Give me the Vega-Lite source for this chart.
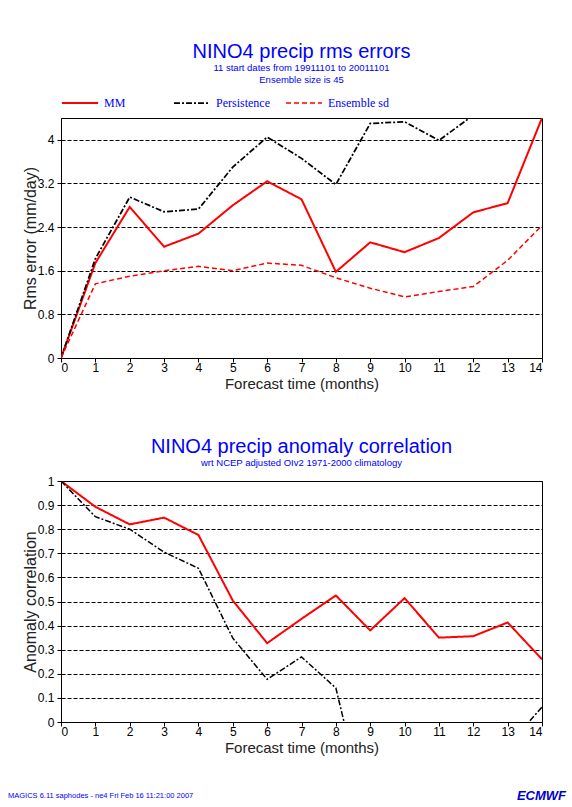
{
  "$schema": "https://vega.github.io/schema/vega-lite/v6.json",
  "background": "white",
  "padding": {"left": 7, "top": 41, "right": 7, "bottom": 3},
  "bounds": "flush",
  "spacing": 123,
  "config": {
    "font": "Liberation Sans",
    "view": {"stroke": "black", "strokeWidth": 1},
    "axis": {
      "domainColor": "black", "tickColor": "black", "labelColor": "black",
      "labelFont": "Liberation Sans", "labelFontSize": 12, "tickSize": 4,
      "titleFont": "Liberation Sans", "titleFontWeight": "normal", "titleColor": "#222"
    },
    "title": {"font": "Liberation Sans", "subtitleFont": "Liberation Sans", "fontWeight": "normal", "color": "blue", "subtitleColor": "blue"},
    "legend": {
      "orient": "top", "direction": "horizontal", "columns": 3, "gridAlign": "all",
      "symbolType": "stroke", "symbolSize": 1296,
      "labelFont": "Liberation Serif", "labelFontSize": 12, "labelColor": "blue",
      "labelOffset": 5, "columnPadding": 5, "offset": 9, "padding": 0
    }
  },
  "datasets": {
    "rms": [
      {"month": 0, "series": "MM", "value": 0},
      {"month": 1, "series": "MM", "value": 1.74},
      {"month": 2, "series": "MM", "value": 2.77},
      {"month": 3, "series": "MM", "value": 2.04},
      {"month": 4, "series": "MM", "value": 2.28},
      {"month": 5, "series": "MM", "value": 2.80},
      {"month": 6, "series": "MM", "value": 3.24},
      {"month": 7, "series": "MM", "value": 2.91},
      {"month": 8, "series": "MM", "value": 1.58},
      {"month": 9, "series": "MM", "value": 2.12},
      {"month": 10, "series": "MM", "value": 1.94},
      {"month": 11, "series": "MM", "value": 2.20},
      {"month": 12, "series": "MM", "value": 2.67},
      {"month": 13, "series": "MM", "value": 2.84},
      {"month": 14, "series": "MM", "value": 4.40},
      {"month": 0, "series": "Persistence", "value": 0},
      {"month": 1, "series": "Persistence", "value": 1.82},
      {"month": 2, "series": "Persistence", "value": 2.95},
      {"month": 3, "series": "Persistence", "value": 2.68},
      {"month": 4, "series": "Persistence", "value": 2.73},
      {"month": 5, "series": "Persistence", "value": 3.50},
      {"month": 6, "series": "Persistence", "value": 4.05},
      {"month": 7, "series": "Persistence", "value": 3.66},
      {"month": 8, "series": "Persistence", "value": 3.18},
      {"month": 9, "series": "Persistence", "value": 4.30},
      {"month": 10, "series": "Persistence", "value": 4.33},
      {"month": 11, "series": "Persistence", "value": 3.99},
      {"month": 12, "series": "Persistence", "value": 4.45},
      {"month": 13, "series": "Persistence", "value": 4.6},
      {"month": 14, "series": "Persistence", "value": 4.8},
      {"month": 0, "series": "Ensemble sd", "value": 0},
      {"month": 1, "series": "Ensemble sd", "value": 1.36},
      {"month": 2, "series": "Ensemble sd", "value": 1.50},
      {"month": 3, "series": "Ensemble sd", "value": 1.60},
      {"month": 4, "series": "Ensemble sd", "value": 1.68},
      {"month": 5, "series": "Ensemble sd", "value": 1.60},
      {"month": 6, "series": "Ensemble sd", "value": 1.74},
      {"month": 7, "series": "Ensemble sd", "value": 1.70},
      {"month": 8, "series": "Ensemble sd", "value": 1.47},
      {"month": 9, "series": "Ensemble sd", "value": 1.28},
      {"month": 10, "series": "Ensemble sd", "value": 1.12},
      {"month": 11, "series": "Ensemble sd", "value": 1.22},
      {"month": 12, "series": "Ensemble sd", "value": 1.31},
      {"month": 13, "series": "Ensemble sd", "value": 1.79},
      {"month": 14, "series": "Ensemble sd", "value": 2.43}
    ],
    "acc": [
      {"month": 0, "series": "MM", "value": 1.0},
      {"month": 1, "series": "MM", "value": 0.893},
      {"month": 2, "series": "MM", "value": 0.82},
      {"month": 3, "series": "MM", "value": 0.848},
      {"month": 4, "series": "MM", "value": 0.776},
      {"month": 5, "series": "MM", "value": 0.504},
      {"month": 6, "series": "MM", "value": 0.327},
      {"month": 7, "series": "MM", "value": 0.428},
      {"month": 8, "series": "MM", "value": 0.525},
      {"month": 9, "series": "MM", "value": 0.38},
      {"month": 10, "series": "MM", "value": 0.514},
      {"month": 11, "series": "MM", "value": 0.35},
      {"month": 12, "series": "MM", "value": 0.356},
      {"month": 13, "series": "MM", "value": 0.413},
      {"month": 14, "series": "MM", "value": 0.26},
      {"month": 0, "series": "Persistence", "value": 1.0},
      {"month": 1, "series": "Persistence", "value": 0.852},
      {"month": 2, "series": "Persistence", "value": 0.80},
      {"month": 3, "series": "Persistence", "value": 0.705},
      {"month": 4, "series": "Persistence", "value": 0.638},
      {"month": 5, "series": "Persistence", "value": 0.348},
      {"month": 6, "series": "Persistence", "value": 0.177},
      {"month": 7, "series": "Persistence", "value": 0.27},
      {"month": 8, "series": "Persistence", "value": 0.141},
      {"month": 9, "series": "Persistence", "value": -0.45},
      {"month": 10, "series": "Persistence", "value": -0.5},
      {"month": 11, "series": "Persistence", "value": -0.4},
      {"month": 12, "series": "Persistence", "value": -0.3},
      {"month": 13, "series": "Persistence", "value": -0.1},
      {"month": 14, "series": "Persistence", "value": 0.062}
    ]
  },
  "resolve": {
    "scale": {"color": "independent", "strokeDash": "independent", "strokeWidth": "independent"},
    "legend": {"color": "independent", "strokeDash": "independent", "strokeWidth": "independent"}
  },
  "vconcat": [
    {
      "width": 481,
      "height": 240,
      "title": {
        "text": "NINO4 precip rms errors",
        "subtitle": ["11 start dates from 19911101 to 20011101", "Ensemble size is 45"],
        "fontSize": 20, "subtitleFontSize": 9.5, "subtitleLineHeight": 11.5,
        "subtitlePadding": 1, "offset": 0, "anchor": "middle"
      },
      "data": {"name": "rms"},
      "mark": {"type": "line", "clip": true},
      "encoding": {
        "x": {
          "field": "month", "type": "quantitative",
          "scale": {"domain": [0, 14], "nice": false, "zero": false},
          "axis": {
            "values": [0,1,2,3,4,5,6,7,8,9,10,11,12,13,14], "grid": false, "labelAngle": 0,
            "labelPadding": 0, "title": "Forecast time (months)", "titleFontSize": 15, "titlePadding": 3
          }
        },
        "y": {
          "field": "value", "type": "quantitative",
          "scale": {"domain": [0, 4.4], "nice": false},
          "axis": {
            "values": [0, 0.8, 1.6, 2.4, 3.2, 4], "format": ".2~g",
            "grid": true, "gridColor": "black", "gridDash": [4, 2], "gridOpacity": 1,
            "labelPadding": 3,
            "title": "Rms error (mm/day)", "titleFontSize": 16,
            "titleAngle": -90, "titleX": -26, "titleY": 120, "titleAlign": "center", "titleBaseline": "alphabetic"
          }
        },
        "color": {
          "field": "series", "type": "nominal", "title": null,
          "scale": {"domain": ["MM", "Persistence", "Ensemble sd"], "range": ["#ff0000", "#000000", "#ff0000"]}
        },
        "strokeDash": {
          "field": "series", "type": "nominal", "title": null,
          "scale": {"domain": ["MM", "Persistence", "Ensemble sd"], "range": [[1, 0], [6, 2, 2, 2], [5, 3]]}
        },
        "strokeWidth": {
          "field": "series", "type": "nominal", "title": null,
          "scale": {"domain": ["MM", "Persistence", "Ensemble sd"], "range": [2, 1.5, 2]}
        }
      }
    },
    {
      "width": 481,
      "height": 241,
      "title": {
        "text": "NINO4 precip anomaly correlation",
        "subtitle": "wrt NCEP adjusted OIv2 1971-2000 climatology",
        "fontSize": 20, "subtitleFontSize": 9.5, "subtitlePadding": 1, "offset": 8, "anchor": "middle"
      },
      "encoding": {
        "x": {
          "type": "quantitative",
          "scale": {"domain": [0, 14], "nice": false, "zero": false},
          "axis": {
            "values": [0,1,2,3,4,5,6,7,8,9,10,11,12,13,14], "grid": false, "labelAngle": 0,
            "labelPadding": 0, "title": "Forecast time (months)", "titleFontSize": 15, "titlePadding": 3
          }
        },
        "y": {
          "type": "quantitative",
          "scale": {"domain": [0, 1], "nice": false},
          "axis": {
            "values": [0, 0.1, 0.2, 0.3, 0.4, 0.5, 0.6, 0.7, 0.8, 0.9, 1], "format": ".1~f",
            "grid": true, "gridColor": "black", "gridDash": [4, 2], "gridOpacity": 1,
            "labelPadding": 3,
            "title": "Anomaly correlation", "titleFontSize": 16,
            "titleAngle": -90, "titleX": -26, "titleY": 120.5, "titleAlign": "center", "titleBaseline": "alphabetic"
          }
        }
      },
      "layer": [
        {
          "data": {"name": "acc"},
          "mark": {"type": "line", "clip": true},
          "encoding": {
            "x": {"field": "month"},
            "y": {"field": "value"},
            "color": {
              "field": "series", "type": "nominal", "legend": null,
              "scale": {"domain": ["MM", "Persistence"], "range": ["#ff0000", "#000000"]}
            },
            "strokeDash": {
              "field": "series", "type": "nominal", "legend": null,
              "scale": {"domain": ["MM", "Persistence"], "range": [[1, 0], [6, 2, 2, 2]]}
            },
            "strokeWidth": {
              "field": "series", "type": "nominal", "legend": null,
              "scale": {"domain": ["MM", "Persistence"], "range": [2, 1.5]}
            }
          }
        },
        {
          "data": {"values": [{}]},
          "mark": {"type": "text", "text": "MAGICS 6.11 saphodes - ne4 Fri Feb 16 11:21:00 2007", "align": "left", "baseline": "middle", "fontSize": 7.5, "color": "blue"},
          "encoding": {
            "x": {"datum": -1.543},
            "y": {"datum": -0.305}
          }
        },
        {
          "data": {"values": [{}]},
          "mark": {"type": "text", "text": "ECMWF", "align": "right", "baseline": "middle", "fontSize": 13, "fontWeight": "bold", "fontStyle": "italic", "color": "#0000cc"},
          "encoding": {
            "x": {"datum": 14.7},
            "y": {"datum": -0.305}
          }
        }
      ]
    }
  ]
}
